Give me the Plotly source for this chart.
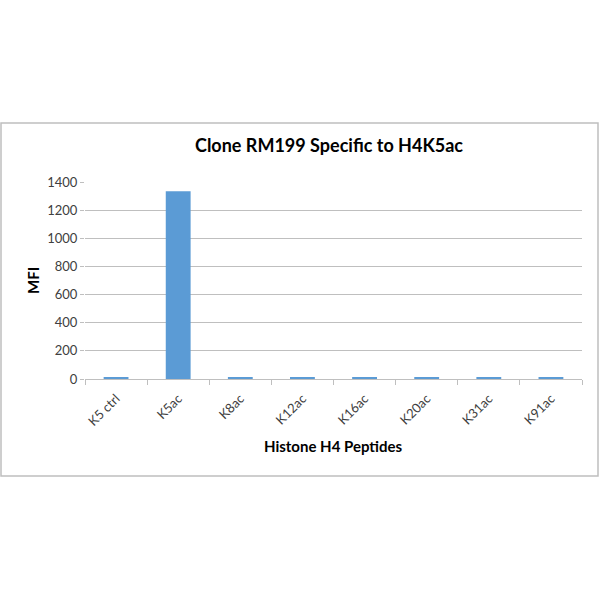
import plotly.graph_objects as go

# peptides on the array and their mean fluorescence intensity
peptides = ['K5 ctrl', 'K5ac', 'K8ac', 'K12ac', 'K16ac', 'K20ac', 'K31ac', 'K91ac']
mfi = [8, 1334, 8, 8, 8, 8, 8, 8]
y_ticks = [0, 200, 400, 600, 800, 1000, 1200, 1400]

font_name = 'Lato'
bar_color = '#5b9bd5'
grid_color = '#bfbfbf'

# plot area in pixels (600x600 page)
left, right, top, bottom = 85, 18, 182, 221
plot_w = 600 - left - right
plot_h = 600 - top - bottom


def px_x(p):
    # page pixel -> paper x
    return (p - left) / plot_w


def px_y(p):
    # page pixel (from top) -> paper y
    return (600 - bottom - p) / plot_h


trace = go.Bar(
    x=peptides,
    y=mfi,
    marker=dict(color=bar_color, line=dict(width=0)),
)

layout = go.Layout(
    width=600,
    height=600,
    margin=dict(l=left, r=right, t=top, b=bottom),
    paper_bgcolor='white',
    plot_bgcolor='white',
    bargap=0.6,
    showlegend=False,
    font=dict(family=font_name, color='#404040', size=13),
    title=dict(
        text='<b>Clone RM199 Specific to H4K5ac</b>',
        font=dict(family=font_name, size=18, color='black'),
        x=329 / 600,
        xanchor='center',
        y=1 - 146 / 600,
        yanchor='middle',
    ),
    xaxis=dict(
        automargin=False,
        tickangle=-45,
        showline=True,
        linecolor=grid_color,
        linewidth=1,
        ticks='outside',
        ticklen=5,
        tickcolor=grid_color,
        tickson='boundaries',
        ticklabelstandoff=6,
        showgrid=False,
        tickfont=dict(size=13, color='#404040'),
    ),
    yaxis=dict(
        automargin=False,
        range=[0, 1400],
        tickvals=y_ticks,
        showgrid=True,
        gridcolor=grid_color,
        gridwidth=1,
        zeroline=False,
        showline=False,
        ticks='outside',
        ticklen=4,
        tickcolor=grid_color,
        tickfont=dict(size=13, color='#404040'),
    ),
    annotations=[
        dict(text='<b>Histone H4 Peptides</b>', xref='paper', yref='paper',
             x=px_x(333), y=px_y(446), showarrow=False,
             xanchor='center', yanchor='middle',
             font=dict(family=font_name, size=15, color='black')),
        dict(text='<b>MFI</b>', xref='paper', yref='paper',
             x=px_x(33), y=px_y(281), showarrow=False, textangle=-90,
             xanchor='center', yanchor='middle',
             font=dict(family=font_name, size=15, color='black')),
    ],
)

fig = go.Figure(data=[trace], layout=layout)

# outer chart border, like a spreadsheet chart frame
fig.add_shape(
    type='rect',
    xref='paper', yref='paper',
    x0=px_x(1), x1=px_x(598),
    y0=px_y(476), y1=px_y(123),
    line=dict(color='#bfbfbf', width=1.5),
    fillcolor='rgba(0,0,0,0)',
    layer='below',
)

# drop the default page margin so the 600x600 figure fills the window
fig.write_html('out.html', config={'displayModeBar': False},
               post_script="document.body.style.margin='0';")
